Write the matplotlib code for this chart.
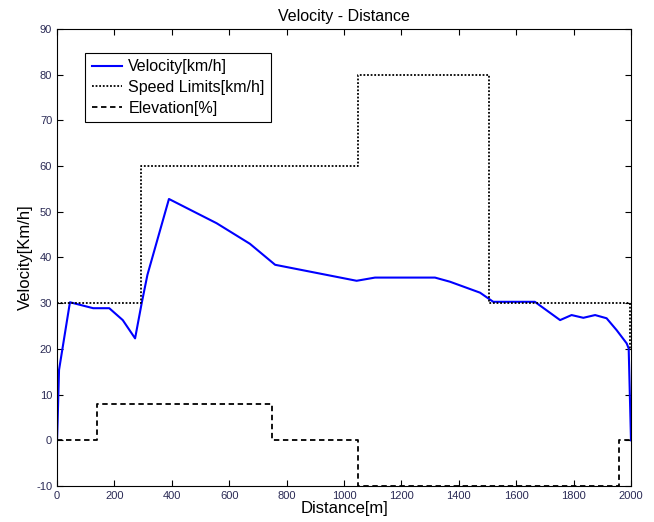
import matplotlib
matplotlib.use('Agg')
import matplotlib.pyplot as plt

plt.rcParams['font.family'] = ['Liberation Sans', 'DejaVu Sans']
plt.rcParams['axes.unicode_minus'] = False

# Velocity profile
vel_dist = [0, 2, 7, 45, 126, 182, 229, 272, 295, 315, 390, 487, 556, 672, 760,
            1044, 1108, 1317, 1369, 1474, 1520, 1665, 1753, 1793, 1834, 1875,
            1915, 1950, 1985, 1992, 2000]
vel = [0, 4, 15.4, 30.2, 28.9, 28.9, 26.3, 22.3, 30, 36.2, 52.8, 49.7, 47.5, 43,
       38.4, 34.9, 35.6, 35.6, 34.7, 32.3, 30.3, 30.3, 26.3, 27.4, 26.8, 27.4,
       26.7, 24.1, 21.2, 20.1, 0]

# Speed limits (step)
lim_dist = [0, 293, 293, 1050, 1050, 1505, 1505, 1996, 1996, 2000]
lim = [30, 30, 60, 60, 80, 80, 30, 30, 20, 20]

# Elevation (step)
elev_dist = [0, 140, 140, 748, 748, 1048, 1048, 1958, 1958, 2000]
elev = [0, 0, 8, 8, 0, 0, -10, -10, 0, 0]

fig = plt.figure(figsize=(6.54, 5.22), dpi=100)
ax = fig.add_axes([0.0872, 0.069, 0.8776, 0.8755])

ax.plot(vel_dist, vel, color='blue', lw=1.5, label='Velocity[km/h]')
ax.plot(lim_dist, lim, color='black', lw=1.3, linestyle=(0, (1, 1)),
        label='Speed Limits[km/h]')
ax.plot(elev_dist, elev, color='black', lw=1.3, linestyle=(0, (3, 2)),
        label='Elevation[%]')

ax.set_xlim(0, 2000)
ax.set_ylim(-10, 90)
ax.set_xticks(range(0, 2001, 200))
ax.set_yticks(range(-10, 91, 10))
ax.tick_params(direction='in', top=True, right=True, labelsize=8, length=4,
               labelcolor='#2a2a55')

ax.set_title('Velocity - Distance', fontsize=11.5)
ax.set_xlabel('Distance[m]', fontsize=12, labelpad=0)
ax.set_ylabel('Velocity[Km/h]', fontsize=12, labelpad=2)

leg = ax.legend(loc='upper left', bbox_to_anchor=(0.049, 0.9475), fontsize=11.5,
                fancybox=False, framealpha=1, edgecolor='black',
                handlelength=1.9, handletextpad=0.4, borderpad=0.4,
                labelspacing=0.35, borderaxespad=0)
leg.get_frame().set_linewidth(0.8)

fig.savefig('out.png', dpi=100)
